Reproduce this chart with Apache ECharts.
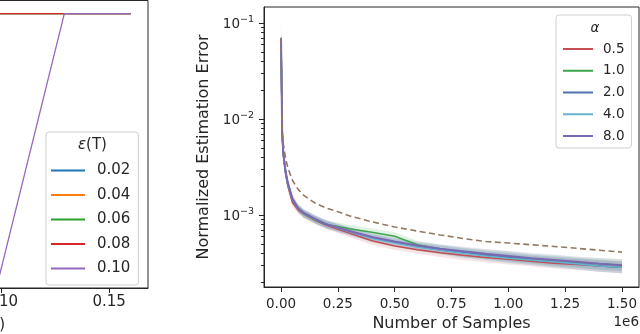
<!DOCTYPE html>
<html>
<head>
<meta charset="utf-8">
<script src="https://cdn.jsdelivr.net/npm/echarts@6/dist/echarts.min.js"></script>
<style>
  html, body { margin: 0; padding: 0; background: #fff; }
  #chart { width: 640px; height: 334px; }
</style>
</head>
<body>
<div id="chart"></div>
<script>
// ---- left panel (only its right edge is in view) ----
var epsNames = ['0.02', '0.04', '0.06', '0.08', '0.10'];
var epsColors = ['#1f77b4', '#ff7f0e', '#2ca02c', '#d62728', '#9467bd'];
var epsRiseStart = [0.02, 0.04, 0.06, 0.08, 0.0992];
var epsRiseEnd = [0.03, 0.05, 0.07, 0.095, 0.1292];
var epsPlateau = 1.0;
var epsXMax = 0.16;
var leftTicks = [0, 0.05, 0.10, 0.15];

// ---- right panel ----
var samples = [0, 0.005, 0.01, 0.02, 0.03, 0.05, 0.075, 0.1, 0.15, 0.2, 0.25, 0.3, 0.4, 0.5, 0.6, 0.7, 0.8, 0.9, 1.0, 1.1, 1.2, 1.3, 1.4, 1.5];
var alphaNames = ['0.5', '1.0', '2.0', '4.0', '8.0'];
var alphaColors = ['#c44e52', '#3ca64a', '#4c72b0', '#64b5cd', '#7b68b5'];
var err05 = [0.068, 6.8e-3, 4.2e-3, 2.7e-3, 2.0e-3, 1.35e-3, 1.13e-3, 1.02e-3, 8.8e-4, 7.8e-4, 7.1e-4, 6.5e-4, 5.4e-4, 4.75e-4, 4.35e-4, 4.05e-4, 3.8e-4, 3.6e-4, 3.45e-4, 3.3e-4, 3.15e-4, 3.05e-4, 2.95e-4, 2.85e-4];
var err10 = [0.07, 7e-3, 4.3e-3, 2.8e-3, 2.1e-3, 1.45e-3, 1.17e-3, 1.03e-3, 8.9e-4, 7.9e-4, 7.6e-4, 7.2e-4, 6.6e-4, 6.0e-4, 4.9e-4, 4.45e-4, 4.1e-4, 3.9e-4, 3.7e-4, 3.5e-4, 3.35e-4, 3.2e-4, 3.1e-4, 3.0e-4];
var err20 = [0.07, 7e-3, 4.3e-3, 2.8e-3, 2.1e-3, 1.45e-3, 1.17e-3, 1.04e-3, 9.0e-4, 8.0e-4, 7.3e-4, 6.8e-4, 5.8e-4, 5.2e-4, 4.7e-4, 4.35e-4, 4.05e-4, 3.8e-4, 3.6e-4, 3.4e-4, 3.25e-4, 3.1e-4, 2.95e-4, 2.85e-4];
var err40 = [0.07, 7e-3, 4.3e-3, 2.8e-3, 2.1e-3, 1.46e-3, 1.17e-3, 1.04e-3, 9.0e-4, 8.0e-4, 7.3e-4, 6.7e-4, 5.7e-4, 5.1e-4, 4.65e-4, 4.3e-4, 4.0e-4, 3.75e-4, 3.55e-4, 3.4e-4, 3.25e-4, 3.1e-4, 2.95e-4, 2.85e-4];
var err80 = [0.07, 7.2e-3, 4.4e-3, 2.85e-3, 2.15e-3, 1.48e-3, 1.18e-3, 1.05e-3, 9.1e-4, 8.0e-4, 7.4e-4, 6.8e-4, 5.9e-4, 5.3e-4, 4.8e-4, 4.45e-4, 4.2e-4, 3.95e-4, 3.75e-4, 3.55e-4, 3.4e-4, 3.25e-4, 3.1e-4, 3.0e-4];
var baseline = [0.07, 8e-3, 5.5e-3, 3.9e-3, 3.1e-3, 2.3e-3, 1.85e-3, 1.6e-3, 1.33e-3, 1.18e-3, 1.08e-3, 9.8e-4, 8.5e-4, 7.5e-4, 6.8e-4, 6.2e-4, 5.7e-4, 5.3e-4, 5.1e-4, 4.9e-4, 4.7e-4, 4.5e-4, 4.3e-4, 4.1e-4];
// spread of the shaded band (multiplicative)
var bandSpread = [1.45, 1.25, 1.2, 1.15, 1.12, 1.1, 1.1, 1.1, 1.1, 1.1, 1.1, 1.1, 1.1, 1.1, 1.1, 1.11, 1.12, 1.12, 1.13, 1.13, 1.14, 1.14, 1.15, 1.15];
var xTicks = [0, 0.25, 0.5, 0.75, 1.0, 1.25, 1.5];
var yMajor = [1e-3, 1e-2, 1e-1];
var yMinor = [2e-4, 3e-4, 4e-4, 5e-4, 6e-4, 7e-4, 8e-4, 9e-4,
  2e-3, 3e-3, 4e-3, 5e-3, 6e-3, 7e-3, 8e-3, 9e-3,
  2e-2, 3e-2, 4e-2, 5e-2, 6e-2, 7e-2, 8e-2, 9e-2];
var errSeries = [err05, err10, err20, err40, err80];

var FONT = 'DejaVu Sans';
var INK = '#262626';

var series = [];

// left panel lines
epsNames.forEach(function (name, i) {
  series.push({
    name: name,
    type: 'line',
    xAxisIndex: 0,
    yAxisIndex: 0,
    symbol: 'none',
    data: [[0, 0], [epsRiseStart[i], 0], [epsRiseEnd[i], epsPlateau], [epsXMax, epsPlateau]],
    lineStyle: { color: epsColors[i], width: 1.3 },
    itemStyle: { color: epsColors[i] },
    z: 2 + i
  });
});

// right panel shaded bands, drawn through the axes with api.coord
function bandItem(i) {
  return function (params, api) {
    var upper = [], lower = [];
    for (var k = 0; k < samples.length; k++) {
      upper.push(api.coord([samples[k], errSeries[i][k] * bandSpread[k]]));
      lower.unshift(api.coord([samples[k], errSeries[i][k] / bandSpread[k]]));
    }
    var cs = params.coordSys;
    return {
      type: 'polygon',
      shape: { points: upper.concat(lower) },
      style: { fill: alphaColors[i], opacity: 0.15 },
      clipPath: { type: 'rect', shape: { x: cs.x, y: cs.y, width: cs.width, height: cs.height } }
    };
  };
}
errSeries.forEach(function (vals, i) {
  series.push({
    type: 'custom',
    xAxisIndex: 1,
    yAxisIndex: 1,
    silent: true,
    data: [[samples[0], vals[0]]],
    encode: { x: 0, y: 1 },
    renderItem: bandItem(i),
    z: 1
  });
});

// right panel mean lines
alphaNames.forEach(function (name, i) {
  series.push({
    name: name,
    type: 'line',
    xAxisIndex: 1,
    yAxisIndex: 1,
    symbol: 'none',
    data: samples.map(function (x, k) { return [x, errSeries[i][k]]; }),
    lineStyle: { color: alphaColors[i], width: i === 4 ? 2 : 1.5 },
    itemStyle: { color: alphaColors[i] },
    z: 3 + i
  });
});

series.push({
  name: 'baseline',
  type: 'line',
  xAxisIndex: 1,
  yAxisIndex: 1,
  symbol: 'none',
  data: samples.map(function (x, k) { return [x, baseline[k]]; }),
  lineStyle: { color: '#937860', width: 1.6, type: [6, 3.5] },
  z: 9
});

var chart = echarts.init(document.getElementById('chart'));
chart.setOption({
  animation: false,
  backgroundColor: '#fff',
  textStyle: { fontFamily: FONT, color: INK },
  grid: [
    { left: -231.5, top: 0.5, width: 379.5, height: 287.5, outerBoundsMode: 'none', containLabel: false,
      show: true, borderColor: INK, borderWidth: 1, backgroundColor: 'transparent' },
    { left: 264, top: 7, width: 375, height: 280, outerBoundsMode: 'none', containLabel: false,
      show: true, borderColor: INK, borderWidth: 1, backgroundColor: 'transparent' }
  ],
  xAxis: [
    {
      gridIndex: 0, type: 'value', min: -0.008, max: 0.168,
      splitLine: { show: false },
      axisLine: { onZero: false, lineStyle: { color: INK } },
      axisTick: { customValues: leftTicks, length: 5, lineStyle: { color: INK } },
      axisLabel: { customValues: leftTicks, margin: 7, fontSize: 15, color: INK, fontFamily: FONT,
        formatter: function (v) { return v.toFixed(2); } }
    },
    {
      gridIndex: 1, type: 'value', min: -0.075, max: 1.575,
      splitLine: { show: false },
      axisLine: { onZero: false, lineStyle: { color: INK } },
      axisTick: { customValues: xTicks, length: 5, lineStyle: { color: INK } },
      axisLabel: { customValues: xTicks, margin: 10, fontSize: 13.5, color: INK, fontFamily: FONT,
        formatter: function (v) { return v.toFixed(2); } },
      name: 'Number of Samples', nameLocation: 'middle', nameGap: 27,
      nameTextStyle: { fontSize: 16, color: INK, fontFamily: FONT }
    }
  ],
  yAxis: [
    {
      gridIndex: 0, type: 'value', min: -0.05, max: 1.05, position: 'left',
      splitLine: { show: false },
      axisLine: { show: true, onZero: false, lineStyle: { color: INK } },
      axisTick: { show: false },
      axisLabel: { show: false }
    },
    {
      gridIndex: 1, type: 'log', logBase: 10, min: 1.778e-4, max: 0.1468, position: 'left',
      splitLine: { show: false },
      axisLine: { show: true, onZero: false, lineStyle: { color: INK } },
      axisTick: { customValues: yMajor, length: 5, lineStyle: { color: INK } },
      axisLabel: {
        customValues: yMajor, margin: 10, color: INK, fontFamily: FONT,
        formatter: function (v) {
          var e = Math.round(Math.log10(v));
          return '{b|10}{e|\u2212' + Math.abs(e) + '}';
        },
        rich: {
          b: { fontSize: 13.5, fontFamily: FONT, color: INK, verticalAlign: 'bottom' },
          e: { fontSize: 9.5, fontFamily: FONT, color: INK, verticalAlign: 'bottom', padding: [0, 0, 7, 0] }
        }
      },
      name: 'Normalized Estimation Error', nameLocation: 'middle', nameGap: 44,
      nameTextStyle: { fontSize: 16, color: INK, fontFamily: FONT }
    },
    {
      gridIndex: 1, type: 'log', logBase: 10, min: 1.778e-4, max: 0.1468, position: 'left', offset: 0,
      splitLine: { show: false },
      axisLine: { show: false, onZero: false },
      axisTick: { customValues: yMinor, length: 3, lineStyle: { color: INK } },
      axisLabel: { show: false }
    }
  ],
  legend: [
    {
      data: epsNames, orient: 'vertical', left: 46, top: 132, icon: 'rect',
      padding: [31, 8, 9, 5], itemWidth: 34, itemHeight: 2, itemGap: 9.5,
      backgroundColor: '#fff', borderColor: '#d0d0d0', borderWidth: 1, borderRadius: 3,
      textStyle: { fontSize: 15, fontFamily: FONT, color: INK, lineHeight: 14, padding: [0, 0, 0, 7] }
    },
    {
      data: alphaNames, orient: 'vertical', left: 556, top: 15, icon: 'rect',
      padding: [27, 7, 5, 7], itemWidth: 30, itemHeight: 2, itemGap: 7.75,
      backgroundColor: '#fff', borderColor: '#d0d0d0', borderWidth: 1, borderRadius: 3,
      textStyle: { fontSize: 13.5, fontFamily: FONT, color: INK, lineHeight: 14, padding: [0, 0, 0, 5] }
    }
  ],
  graphic: [
    {
      type: 'text', left: 78, top: 138, z: 100,
      style: {
        text: '{i|\u03b5}(T)', fill: INK, font: '15px "DejaVu Sans"',
        rich: { i: { fontStyle: 'italic', fontSize: 15, fontFamily: FONT } }
      }
    },
    {
      type: 'text', x: 595, y: 28, z: 100,
      style: { text: '\u03b1', fill: INK, font: 'italic 13.5px "DejaVu Sans"', align: 'center', verticalAlign: 'middle' }
    },
    {
      type: 'text', x: 639, y: 322, z: 100,
      style: { text: '1e6', fill: INK, font: '13.5px "DejaVu Sans"', align: 'right', verticalAlign: 'middle' }
    },
    {
      type: 'text', x: 5, y: 325, z: 100,
      style: { text: '(T)', fill: INK, font: '15px "DejaVu Sans"', align: 'right', verticalAlign: 'middle' }
    }
  ],
  series: series
});
</script>
</body>
</html>
